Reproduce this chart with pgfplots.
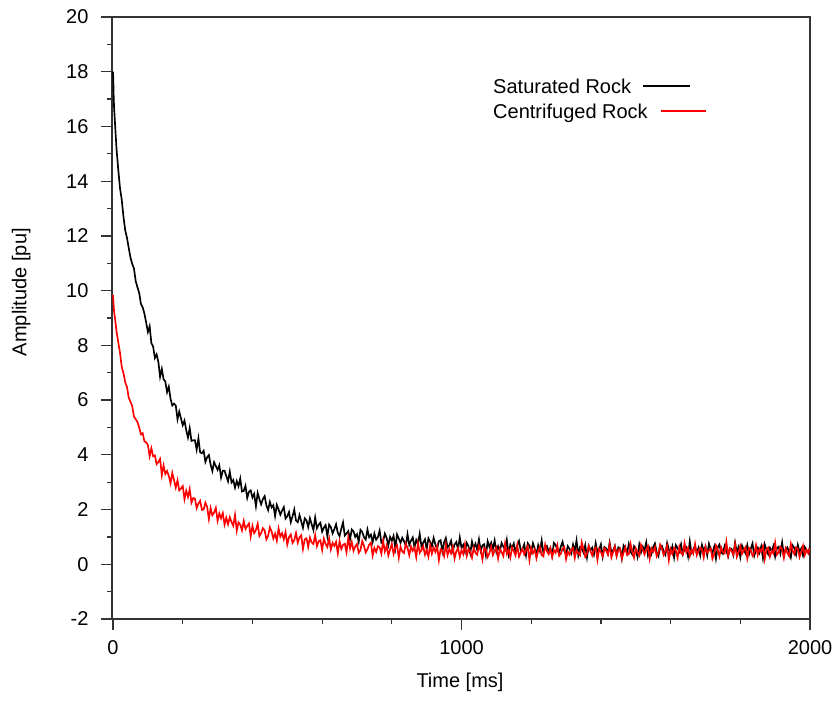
\documentclass[border=0pt]{standalone}
\usepackage{fontspec}
\setmainfont{Liberation Sans}
\usepackage{pgfplots}
\pgfplotsset{compat=1.18}

% 1 px of the reference = 0.75pt
\begin{document}
\fontsize{15}{18}\selectfont
\begin{tikzpicture}
\begin{axis}[
  at={(0pt,0pt)}, anchor=south west,
  scale only axis,
  width=523.5pt, height=451.5pt,
  xmin=-3, xmax=2000,
  ymin=-2, ymax=20,
  xtick={0,1000,2000},
  minor x tick num=4,
  ytick={-2,0,...,20},
  minor y tick num=1,
  xtick pos=bottom, ytick pos=left,
  tick align=outside,
  major tick length=8pt,
  minor tick length=4pt,
  axis line style={black!80, line width=0.9pt},
  every tick/.style={black!80, line width=0.9pt},
  /pgf/number format/assume math mode=true,
  /pgf/number format/1000 sep={},
  ticklabel style={font=\fontsize{15}{18}\selectfont},
  yticklabel style={xshift=-4.5pt},
  xticklabel style={yshift=-3pt},
  label style={font=\fontsize{15}{18}\selectfont},
  xlabel={Time [ms]},
  ylabel={Amplitude [pu]},
  xlabel style={at={(axis description cs:0.4986,-0.1047)}, anchor=center},
  ylabel style={at={(axis description cs:-0.130,0.543)}, anchor=center, rotate=0},
  clip=true,
]

% Saturated Rock
\addplot[black, line width=1.25pt, mark=none] coordinates {
(0,18.00)(1,17.55)(2,17.02)(3,16.68)(4,16.47)(5,16.25)(10,15.17)(15,14.42)(20,13.74)(25,13.32)(30,12.69)(35,12.20)(40,11.93)(45,11.56)(50,11.21)(55,10.98)(60,10.81)(65,10.35)(70,10.12)(75,9.92)(80,9.52)(85,9.39)(90,9.16)(95,8.84)
(100,8.49)(105,8.70)(110,8.08)(115,7.96)(120,7.54)(125,7.67)(130,7.40)(135,6.85)(140,7.14)(145,6.76)(150,6.68)(155,6.29)(160,6.49)(165,6.05)(170,5.80)(175,5.87)(180,5.80)(185,5.30)(190,5.58)(195,5.33)
(200,5.08)(205,5.25)(210,4.90)(215,4.63)(220,4.98)(225,4.51)(230,4.53)(235,4.53)(240,4.19)(245,4.60)(250,4.09)(255,4.06)(260,4.15)(265,3.74)(270,3.91)(275,3.99)(280,3.64)(285,3.41)(290,3.73)(295,3.59)
(300,3.45)(305,3.62)(310,3.17)(315,3.42)(320,3.42)(325,3.22)(330,3.03)(335,3.39)(340,2.99)(345,3.08)(350,2.80)(355,3.04)(360,2.85)(365,3.13)(370,2.66)(375,2.68)(380,2.87)(385,2.42)(390,2.65)(395,2.70)
(400,2.44)(405,2.57)(410,2.12)(415,2.61)(420,2.38)(425,2.19)(430,2.38)(435,2.49)(440,2.15)(445,1.98)(450,2.28)(455,2.08)(460,2.16)(465,1.76)(470,2.17)(475,2.00)(480,1.81)(485,1.96)(490,2.09)(495,1.67)
(500,1.76)(505,1.91)(510,1.54)(515,1.75)(520,2.00)(525,1.60)(530,1.54)(535,1.80)(540,1.57)(545,1.33)(550,1.68)(555,1.61)(560,1.36)(565,1.68)(570,1.46)(575,1.25)(580,1.71)(585,1.32)(590,1.45)(595,1.52)
(600,1.19)(605,1.34)(610,1.43)(615,1.02)(620,1.45)(625,1.36)(630,1.13)(635,1.28)(640,1.46)(645,1.15)(650,1.03)(655,1.30)(660,1.53)(665,1.05)(670,1.12)(675,1.21)(680,0.91)(685,1.27)(690,1.20)(695,1.00)
(700,1.10)(705,0.82)(710,1.26)(715,1.18)(720,0.99)(725,0.90)(730,1.27)(735,0.99)(740,1.08)(745,0.81)(750,1.12)(755,0.90)(760,0.99)(765,1.23)(770,0.79)(775,0.84)(780,1.12)(785,0.97)(790,0.69)(795,1.00)
(800,0.86)(805,1.04)(810,0.59)(815,1.09)(820,0.94)(825,0.78)(830,0.97)(835,0.84)(840,0.68)(845,1.10)(850,0.71)(855,0.86)(860,0.98)(865,0.62)(870,0.89)(875,0.74)(880,1.11)(885,0.65)(890,0.79)(895,0.91)
(900,0.54)(905,0.95)(910,0.82)(915,0.66)(920,0.96)(925,0.72)(930,0.57)(935,0.84)(940,0.88)(945,0.47)(950,0.80)(955,0.96)(960,0.62)(965,0.69)(970,0.86)(975,0.50)(980,0.72)(985,0.81)(990,0.55)(995,0.98)
(1000,0.60)(1005,0.71)(1010,0.46)(1015,0.78)(1020,0.66)(1025,0.40)(1030,0.83)(1035,0.59)(1040,0.75)(1045,0.53)(1050,0.91)(1055,0.49)(1060,0.69)(1065,0.73)(1070,0.33)(1075,0.84)(1080,0.63)(1085,0.79)(1090,0.56)(1095,0.87)
(1100,0.45)(1105,0.66)(1110,0.48)(1115,0.78)(1120,0.64)(1125,0.54)(1130,0.89)(1135,0.37)(1140,0.72)(1145,0.60)(1150,0.76)(1155,0.43)(1160,0.70)(1165,0.85)(1170,0.50)(1175,0.56)(1180,0.73)(1185,0.33)(1190,0.77)(1195,0.68)
(1200,0.46)(1205,0.77)(1210,0.57)(1215,0.35)(1220,0.70)(1225,0.49)(1230,0.87)(1235,0.40)(1240,0.63)(1245,0.67)(1250,0.45)(1255,0.60)(1260,0.31)(1265,0.78)(1270,0.71)(1275,0.53)(1280,0.41)(1285,0.65)(1290,0.82)(1295,0.48)
(1300,0.38)(1305,0.66)(1310,0.56)(1315,0.40)(1320,0.72)(1325,0.48)(1330,0.87)(1335,0.33)(1340,0.63)(1345,0.58)(1350,0.43)(1355,0.70)(1360,0.25)(1365,0.67)(1370,0.51)(1375,0.61)(1380,0.36)(1385,0.77)(1390,0.44)(1395,0.55)
(1400,0.73)(1405,0.28)(1410,0.63)(1415,0.58)(1420,0.39)(1425,0.79)(1430,0.45)(1435,0.50)(1440,0.67)(1445,0.32)(1450,0.62)(1455,0.57)(1460,0.21)(1465,0.69)(1470,0.60)(1475,0.40)(1480,0.74)(1485,0.47)(1490,0.36)(1495,0.66)
(1500,0.55)(1505,0.27)(1510,0.72)(1515,0.43)(1520,0.64)(1525,0.51)(1530,0.80)(1535,0.33)(1540,0.58)(1545,0.38)(1550,0.63)(1555,0.76)(1560,0.44)(1565,0.30)(1570,0.61)(1575,0.67)(1580,0.48)(1585,0.35)(1590,0.78)(1595,0.54)
(1600,0.41)(1605,0.65)(1610,0.25)(1615,0.70)(1620,0.59)(1625,0.46)(1630,0.73)(1635,0.37)(1640,0.56)(1645,0.62)(1650,0.29)(1655,0.84)(1660,0.42)(1665,0.53)(1670,0.68)(1675,0.39)(1680,0.60)(1685,0.32)(1690,0.71)(1695,0.49)
(1700,0.64)(1705,0.32)(1710,0.75)(1715,0.55)(1720,0.41)(1725,0.64)(1730,0.20)(1735,0.61)(1740,0.72)(1745,0.43)(1750,0.38)(1755,0.67)(1760,0.50)(1765,0.29)(1770,0.59)(1775,0.56)(1780,0.34)(1785,0.79)(1790,0.45)(1795,0.63)
(1800,0.26)(1805,0.68)(1810,0.53)(1815,0.40)(1820,0.70)(1825,0.36)(1830,0.57)(1835,0.76)(1840,0.31)(1845,0.51)(1850,0.61)(1855,0.42)(1860,0.65)(1865,0.22)(1870,0.73)(1875,0.54)(1880,0.37)(1885,0.60)(1890,0.48)(1895,0.67)
(1900,0.28)(1905,0.58)(1910,0.64)(1915,0.39)(1920,0.80)(1925,0.33)(1930,0.55)(1935,0.62)(1940,0.44)(1945,0.25)(1950,0.69)(1955,0.59)(1960,0.35)(1965,0.71)(1970,0.46)(1975,0.58)(1980,0.32)(1985,0.63)(1990,0.52)(1995,0.41)(2000,0.66)
};

% Centrifuged Rock
\addplot[red, line width=1.25pt, mark=none] coordinates {
(0,9.84)(1,9.60)(2,9.41)(3,9.24)(4,9.12)(5,9.06)(10,8.51)(15,8.11)(20,7.73)(25,7.21)(30,6.98)(35,6.65)(40,6.48)(45,6.09)(50,5.94)(55,5.78)(60,5.40)(65,5.30)(70,5.20)(75,5.00)(80,4.75)(85,4.79)(90,4.49)(95,4.46)
(100,4.36)(105,3.95)(110,4.24)(115,3.95)(120,3.98)(125,3.66)(130,3.74)(135,3.85)(140,3.26)(145,3.61)(150,3.30)(155,3.41)(160,3.23)(165,2.96)(170,3.34)(175,3.08)(180,2.80)(185,3.07)(190,2.70)(195,2.77)
(200,2.86)(205,2.38)(210,2.69)(215,2.46)(220,2.75)(225,2.25)(230,2.42)(235,2.40)(240,2.05)(245,2.22)(250,2.32)(255,1.99)(260,2.00)(265,2.25)(270,2.10)(275,1.65)(280,2.05)(285,1.79)(290,1.89)(295,2.06)
(300,1.59)(305,1.86)(310,1.68)(315,1.87)(320,1.45)(325,1.70)(330,1.46)(335,1.72)(340,1.54)(345,1.41)(350,1.80)(355,1.23)(360,1.53)(365,1.45)(370,1.24)(375,1.58)(380,1.29)(385,1.40)(390,1.49)(395,1.02)
(400,1.40)(405,1.14)(410,1.25)(415,1.48)(420,1.03)(425,1.14)(430,1.32)(435,1.24)(440,0.91)(445,1.04)(450,1.35)(455,1.20)(460,0.94)(465,1.12)(470,0.86)(475,1.31)(480,1.01)(485,1.13)(490,0.91)(495,1.18)
(500,0.72)(505,0.99)(510,1.09)(515,0.78)(520,0.88)(525,1.14)(530,0.79)(535,0.98)(540,1.06)(545,0.56)(550,0.91)(555,0.95)(560,0.64)(565,0.98)(570,0.80)(575,0.74)(580,1.07)(585,0.66)(590,0.84)(595,0.88)
(600,0.52)(605,0.94)(610,0.75)(615,0.63)(620,0.95)(625,0.54)(630,0.78)(635,0.67)(640,0.82)(645,0.40)(650,0.84)(655,0.56)(660,0.71)(665,0.75)(670,0.44)(675,0.98)(680,0.58)(685,0.82)(690,0.49)(695,0.65)
(700,0.74)(705,0.42)(710,0.52)(715,0.85)(720,0.68)(725,0.43)(730,0.55)(735,0.72)(740,0.79)(745,0.32)(750,0.60)(755,0.45)(760,0.66)(765,0.62)(770,0.39)(775,0.85)(780,0.47)(785,0.68)(790,0.32)(795,0.54)
(800,0.74)(805,0.38)(810,0.60)(815,0.69)(820,0.24)(825,0.64)(830,0.47)(835,0.41)(840,0.75)(845,0.60)(850,0.33)(855,0.65)(860,0.49)(865,0.61)(870,0.26)(875,0.77)(880,0.42)(885,0.52)(890,0.66)(895,0.35)
(900,0.53)(905,0.28)(910,0.70)(915,0.39)(920,0.61)(925,0.45)(930,0.66)(935,0.15)(940,0.55)(945,0.51)(950,0.30)(955,0.72)(960,0.34)(965,0.56)(970,0.40)(975,0.64)(980,0.21)(985,0.47)(990,0.59)(995,0.27)
(1000,0.52)(1005,0.37)(1010,0.74)(1015,0.31)(1020,0.56)(1025,0.47)(1030,0.24)(1035,0.60)(1040,0.42)(1045,0.35)(1050,0.68)(1055,0.52)(1060,0.18)(1065,0.59)(1070,0.54)(1075,0.27)(1080,0.41)(1085,0.65)(1090,0.34)(1095,0.50)
(1100,0.62)(1105,0.21)(1110,0.57)(1115,0.45)(1120,0.30)(1125,0.76)(1130,0.38)(1135,0.53)(1140,0.25)(1145,0.61)(1150,0.48)(1155,0.32)(1160,0.70)(1165,0.28)(1170,0.43)(1175,0.56)(1180,0.36)(1185,0.51)(1190,0.66)(1195,0.15)
(1200,0.59)(1205,0.40)(1210,0.54)(1215,0.22)(1220,0.49)(1225,0.63)(1230,0.34)(1235,0.29)(1240,0.72)(1245,0.47)(1250,0.37)(1255,0.58)(1260,0.26)(1265,0.52)(1270,0.42)(1275,0.69)(1280,0.31)(1285,0.39)(1290,0.57)(1295,0.64)
(1300,0.19)(1305,0.46)(1310,0.35)(1315,0.54)(1320,0.60)(1325,0.23)(1330,0.51)(1335,0.41)(1340,0.33)(1345,0.80)(1350,0.55)(1355,0.27)(1360,0.38)(1365,0.67)(1370,0.48)(1375,0.32)(1380,0.53)(1385,0.61)(1390,0.16)(1395,0.56)
(1400,0.45)(1405,0.28)(1410,0.59)(1415,0.50)(1420,0.36)(1425,0.73)(1430,0.25)(1435,0.44)(1440,0.64)(1445,0.30)(1450,0.52)(1455,0.57)(1460,0.20)(1465,0.42)(1470,0.62)(1475,0.34)(1480,0.37)(1485,0.75)(1490,0.47)(1495,0.24)
(1500,0.58)(1505,0.43)(1510,0.32)(1515,0.71)(1520,0.54)(1525,0.36)(1530,0.52)(1535,0.66)(1540,0.21)(1545,0.58)(1550,0.46)(1555,0.63)(1560,0.29)(1565,0.42)(1570,0.72)(1575,0.57)(1580,0.34)(1585,0.49)(1590,0.68)(1595,0.15)
(1600,0.55)(1605,0.38)(1610,0.60)(1615,0.51)(1620,0.24)(1625,0.64)(1630,0.41)(1635,0.35)(1640,0.77)(1645,0.44)(1650,0.59)(1655,0.30)(1660,0.53)(1665,0.39)(1670,0.74)(1675,0.33)(1680,0.47)(1685,0.61)(1690,0.56)(1695,0.25)
(1700,0.65)(1705,0.42)(1710,0.50)(1715,0.58)(1720,0.20)(1725,0.37)(1730,0.69)(1735,0.54)(1740,0.29)(1745,0.62)(1750,0.45)(1755,0.40)(1760,0.82)(1765,0.32)(1770,0.57)(1775,0.48)(1780,0.36)(1785,0.73)(1790,0.27)(1795,0.43)
(1800,0.67)(1805,0.38)(1810,0.51)(1815,0.63)(1820,0.22)(1825,0.59)(1830,0.52)(1835,0.31)(1840,0.41)(1845,0.70)(1850,0.34)(1855,0.56)(1860,0.46)(1865,0.66)(1870,0.18)(1875,0.54)(1880,0.61)(1885,0.28)(1890,0.49)(1895,0.39)
(1900,0.79)(1905,0.35)(1910,0.44)(1915,0.64)(1920,0.55)(1925,0.23)(1930,0.58)(1935,0.42)(1940,0.30)(1945,0.75)(1950,0.50)(1955,0.37)(1960,0.62)(1965,0.57)(1970,0.26)(1975,0.45)(1980,0.68)(1985,0.33)(1990,0.53)(1995,0.40)(2000,0.60)
};

% legend: text first, line sample after it
\node[anchor=base west, inner sep=0pt] (l1) at (rel axis cs:0.5458,0.8732) {Saturated Rock};
\node[anchor=base west, inner sep=0pt] (l2) at (rel axis cs:0.5458,0.8317) {Centrifuged Rock};
\draw[black, line width=1.2pt] ([xshift=8.8pt, yshift=5.4pt]l1.base east) -- ++(35pt,0pt);
\draw[red, line width=1.2pt] ([xshift=9.5pt, yshift=5.4pt]l2.base east) -- ++(34.3pt,0pt);

\end{axis}
\pgfresetboundingbox
\useasboundingbox (-84pt,-60.75pt) rectangle (543.75pt,464.25pt);
\end{tikzpicture}
\end{document}
